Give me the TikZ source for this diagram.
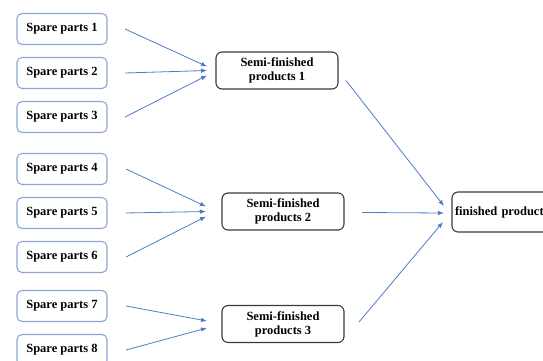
\documentclass[tikz,border=0pt]{standalone}
\usepackage{fontspec}
\setmainfont{Liberation Serif}
\usepackage{tikz}
\usetikzlibrary{calc, positioning, arrows.meta}
\definecolor{linkblue}{HTML}{4E7CC4}
\definecolor{spareframe}{HTML}{8FA5D6}
\definecolor{semiframe}{HTML}{3A3A3A}

\begin{document}
\begin{tikzpicture}
		[x=1pt, y=-1pt,
		 spare/.style={draw=spareframe, line width=1.1pt, rounded corners=5pt, outer sep=0pt,
		   minimum width=90pt, minimum height=31pt, text centered,
		   font=\fontsize{12.5}{14}\selectfont\bfseries},
		 semi/.style={draw=semiframe, line width=1.1pt, rounded corners=6pt, outer sep=0pt,
		   minimum width=122pt, minimum height=37pt, align=center,
		   font=\fontsize{12.5}{14}\selectfont\bfseries},
		 link/.style={-{Latex[length=6pt, width=4.5pt]}, draw=linkblue, line width=0.8pt}]

		\useasboundingbox (0,0) rectangle (543,361);
		\clip (0,0) rectangle (543,361);

		% nodes %
		\node[spare] (sp1) at (62,29) {Spare parts 1};
		\node[spare, below=13pt of sp1] (sp2) {Spare parts 2};
		\node[spare, below=13pt of sp2] (sp3) {Spare parts 3};
		\node[spare, below=21pt of sp3] (sp4) {Spare parts 4};
		\node[spare, below=13pt of sp4] (sp5) {Spare parts 5};
		\node[spare, below=13pt of sp5] (sp6) {Spare parts 6};
		\node[spare, below=18pt of sp6] (sp7) {Spare parts 7};
		\node[spare, below=13pt of sp7] (sp8) {Spare parts 8};

		\node[semi] (semi1) at (277,70.5) {Semi-finished\\products 1};
		\node[semi] (semi2) at (283,211.5) {Semi-finished\\products 2};
		\node[semi] (semi3) at (283,324) {Semi-finished\\products 3};

		\node[draw=semiframe, line width=1.1pt, rounded corners=6pt, outer sep=0pt,
		  anchor=west, minimum height=40pt, text width=100pt, align=left, inner xsep=3pt,
		  font=\fontsize{12.5}{14}\selectfont\bfseries] (fin) at (452,212) {finished product};

		% edges %
		\draw[link] ($(sp1.east)+(18,0)$) -- ($(semi1.west)+(-9,-4)$);
		\draw[link] ($(sp2.east)+(18,0)$) -- ($(semi1.west)+(-9,0)$);
		\draw[link] ($(sp3.east)+(18,0)$) -- ($(semi1.west)+(-9,5)$);

		\draw[link] ($(sp4.east)+(19,0)$) -- ($(semi2.west)+(-16,-5)$);
		\draw[link] ($(sp5.east)+(19,0)$) -- ($(semi2.west)+(-16,0)$);
		\draw[link] ($(sp6.east)+(19,0)$) -- ($(semi2.west)+(-16,5)$);

		\draw[link] ($(sp7.east)+(19,0)$) -- ($(semi3.west)+(-15,-3)$);
		\draw[link] ($(sp8.east)+(19,0)$) -- ($(semi3.west)+(-15,4)$);

		\draw[link] ($(semi1.east)+(8,10)$) -- ($(fin.west)+(-8,-6)$);
		\draw[link] ($(semi2.east)+(18,1)$) -- ($(fin.west)+(-8,1)$);
		\draw[link] ($(semi3.east)+(15,-2)$) -- ($(fin.west)+(-9,10)$);

\end{tikzpicture}
\end{document}
